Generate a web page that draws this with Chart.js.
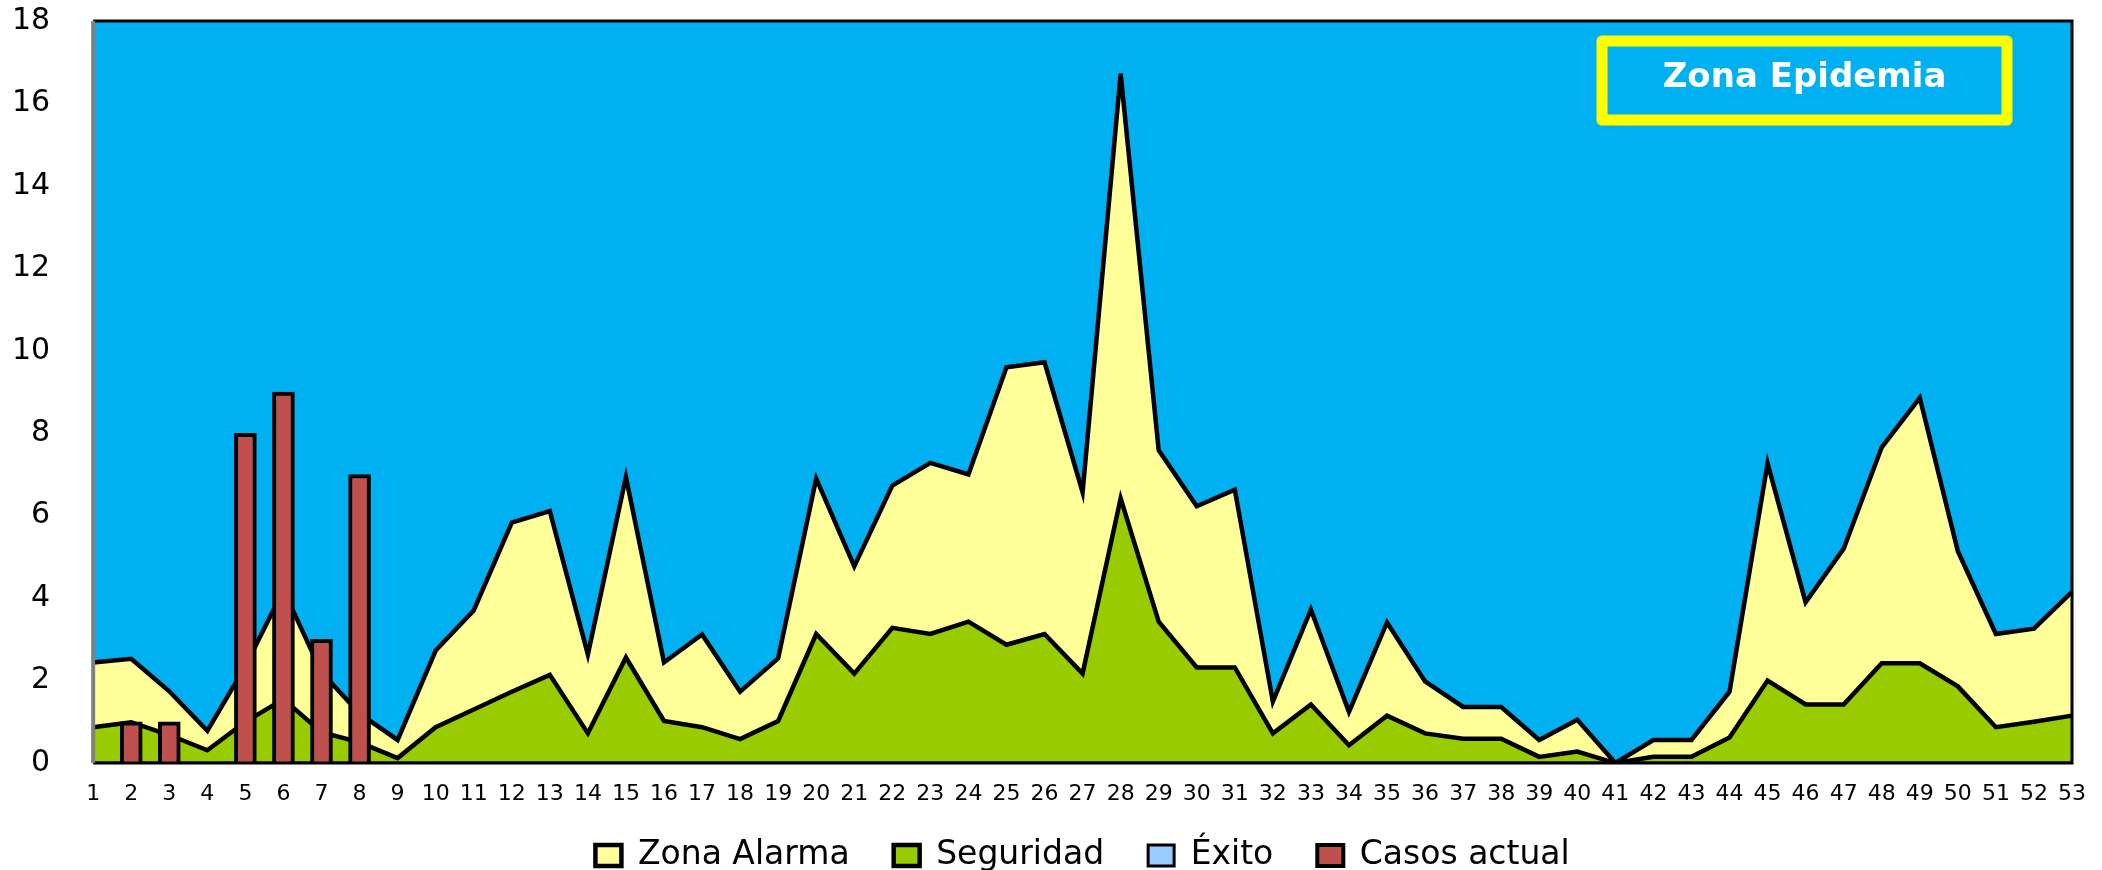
<!DOCTYPE html>
<html>
<head>
<meta charset="utf-8">
<script src="https://cdn.jsdelivr.net/npm/chart.js@4.4.1/dist/chart.umd.min.js"></script>
<style>
  html, body { margin: 0; padding: 0; background: #fff; }
  #wrap { width: 2102px; height: 870px; }
</style>
</head>
<body>
<div id="wrap"><canvas id="myChart"></canvas></div>
<script>
// semanas epidemiologicas
const semanas = ['1', '2', '3', '4', '5', '6', '7', '8', '9', '10',
    '11', '12', '13', '14', '15', '16', '17', '18', '19', '20',
    '21', '22', '23', '24', '25', '26', '27', '28', '29', '30',
    '31', '32', '33', '34', '35', '36', '37', '38', '39', '40',
    '41', '42', '43', '44', '45', '46', '47', '48', '49', '50',
    '51', '52', '53'];

const zonaAlarma = [2.44, 2.53, 1.74, 0.78, 2.35, 4.2, 2.2, 1.2, 0.56, 2.73,
    3.7, 5.83, 6.11, 2.63, 6.94, 2.44, 3.12, 1.73, 2.54, 6.9,
    4.77, 6.73, 7.28, 7.0, 9.6, 9.72, 6.57, 16.72, 7.59, 6.23,
    6.63, 1.49, 3.72, 1.24, 3.41, 1.98, 1.36, 1.36, 0.56, 1.05,
    0, 0.56, 0.56, 1.73, 7.27, 3.9, 5.2, 7.66, 8.86, 5.14,
    3.13, 3.26, 4.15];

const seguridad = [0.87, 0.99, 0.68, 0.31, 1.0, 1.55, 0.75, 0.5, 0.12, 0.87,
    1.3, 1.73, 2.14, 0.72, 2.56, 1.02, 0.87, 0.58, 1.02, 3.13,
    2.17, 3.28, 3.13, 3.43, 2.87, 3.13, 2.17, 6.42, 3.43, 2.32,
    2.32, 0.72, 1.42, 0.43, 1.15, 0.72, 0.59, 0.59, 0.15, 0.28,
    0, 0.15, 0.15, 0.62, 2.0, 1.42, 1.42, 2.42, 2.42, 1.86,
    0.87, 1.0, 1.15];

const exito = [0, 0, 0, 0, 0, 0, 0, 0, 0, 0,
    0, 0, 0, 0, 0, 0, 0, 0, 0, 0,
    0, 0, 0, 0, 0, 0, 0, 0, 0, 0,
    0, 0, 0, 0, 0, 0, 0, 0, 0, 0,
    0, 0, 0, 0, 0, 0, 0, 0, 0, 0,
    0, 0, 0];

const casosActual = [null, 1, 1, null, 8, 9, 3, 7];

// fondo azul del area de trazado, marco y recuadro "Zona Epidemia"
const plotFrame = {
    id: 'plotFrame',
    afterLayout(chart) {
        // subir un poco la leyenda (se solapa con la caja del eje x)
        chart.legend.top -= 10;
    },
    beforeDatasetsDraw(chart) {
        const { ctx, chartArea: a } = chart;
        ctx.save();
        ctx.fillStyle = '#00B0F0';
        ctx.fillRect(a.left, a.top, a.right - a.left, a.bottom - a.top);
        ctx.restore();
    },
    afterDatasetsDraw(chart) {
        const { ctx, chartArea: a } = chart;
        ctx.save();
        ctx.lineWidth = 3;
        ctx.strokeStyle = '#000';
        ctx.beginPath();
        ctx.moveTo(a.left, a.top);
        ctx.lineTo(a.right, a.top);
        ctx.lineTo(a.right, a.bottom);
        ctx.lineTo(a.left, a.bottom);
        ctx.stroke();
        ctx.lineWidth = 4;
        ctx.strokeStyle = '#808080';
        ctx.beginPath();
        ctx.moveTo(a.left, a.top);
        ctx.lineTo(a.left, a.bottom);
        ctx.stroke();

        const bx = a.right - 470, by = a.top + 20, bw = 405, bh = 79;
        ctx.strokeStyle = '#FFFF00';
        ctx.lineWidth = 11;
        ctx.lineJoin = 'round';
        ctx.strokeRect(bx, by, bw, bh);
        ctx.fillStyle = '#fff';
        ctx.font = 'bold 34px "DejaVu Sans"';
        ctx.textAlign = 'center';
        ctx.textBaseline = 'alphabetic';
        ctx.fillText('Zona Epidemia', bx + bw / 2, by + 46);
        ctx.restore();
    }
};

const ctx = document.getElementById('myChart');

const myChart = new Chart(ctx, {
    type: 'line',
    data: {
        labels: semanas,
        datasets: [{
            label: 'Zona Alarma',
            data: zonaAlarma,
            backgroundColor: '#FFFF99',
            borderColor: '#000',
            borderWidth: 4.5,
            fill: 'origin',
            pointRadius: 0,
            tension: 0,
            order: 3
        }, {
            label: 'Seguridad',
            data: seguridad,
            backgroundColor: '#99CC00',
            borderColor: '#000',
            borderWidth: 4.5,
            fill: 'origin',
            pointRadius: 0,
            tension: 0,
            order: 2
        }, {
            label: 'Éxito',
            data: exito,
            backgroundColor: '#99CCFF',
            borderColor: '#000',
            borderWidth: 3,
            fill: 'origin',
            pointRadius: 0,
            tension: 0,
            order: 1
        }, {
            type: 'bar',
            label: 'Casos actual',
            data: casosActual,
            backgroundColor: '#C0504D',
            borderColor: '#000',
            borderWidth: 4,
            barThickness: 22,
            order: 0
        }]
    },
    options: {
        responsive: true,
        maintainAspectRatio: false,
        animation: false,
        layout: {
            padding: { left: 12, right: 30, top: 21, bottom: 0 }
        },
        scales: {
            x: {
                offset: false,
                grid: { display: false, drawTicks: false },
                border: { display: false },
                ticks: {
                    autoSkip: false,
                    maxRotation: 0,
                    color: '#000',
                    padding: 29,
                    font: { family: 'DejaVu Sans', size: 22, lineHeight: 0.18 }
                },
                afterFit(scale) {
                    // padding is counted twice in the axis height
                    scale.height -= 20;
                    scale.paddingLeft = 0;
                    scale.paddingRight = 0;
                }
            },
            y: {
                min: 0,
                max: 18,
                grid: { display: false, drawTicks: false },
                border: { display: false },
                ticks: {
                    stepSize: 2,
                    color: '#000',
                    padding: 43,
                    font: { family: 'DejaVu Sans', size: 30 }
                },
                afterFit(scale) {
                    scale.width -= 43;
                    scale.paddingTop = 0;
                    scale.paddingBottom = 0;
                }
            }
        },
        plugins: {
            legend: {
                position: 'bottom',
                fullSize: false,
                maxHeight: 65,
                labels: {
                    color: '#000',
                    font: { family: 'DejaVu Sans', size: 33 },
                    boxWidth: 26,
                    boxHeight: 21,
                    padding: 44,
                    sort: (a, b) => a.datasetIndex - b.datasetIndex
                }
            },
            tooltip: { enabled: false }
        }
    },
    plugins: [plotFrame]
});
</script>
</body>
</html>
